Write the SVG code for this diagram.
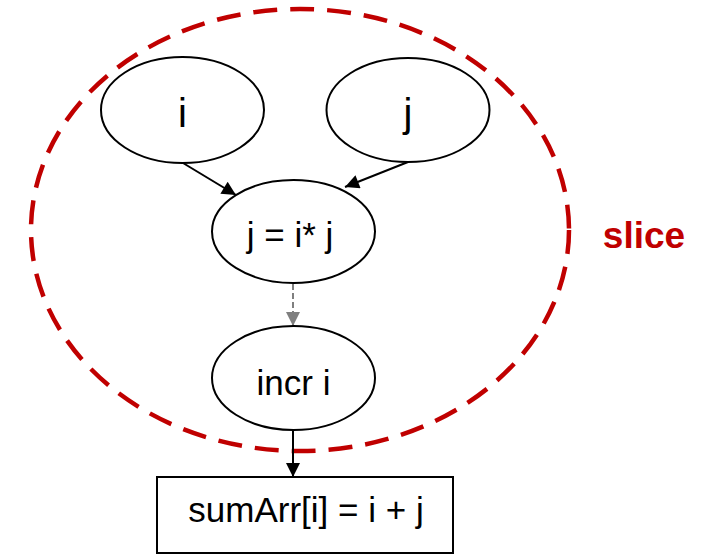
<svg xmlns="http://www.w3.org/2000/svg" width="715" height="554" viewBox="0 0 715 554">
<style>
.node{fill:#fff;stroke:#000;stroke-width:2}
.lbl{font-family:"Liberation Sans",Arial,sans-serif;font-size:35px;fill:#000;text-anchor:middle}
.big{font-size:40px}
.edge{stroke:#000;stroke-width:2;fill:none}
.dash{stroke:#7f7f7f;stroke-width:2;stroke-dasharray:6 3;fill:none}
.slice{fill:none;stroke:#c00000;stroke-width:4.5;stroke-dasharray:24 13}
</style>
<defs>
<marker id="ahg" viewBox="0 0 10 10" refX="10" refY="5" markerWidth="16" markerHeight="14" markerUnits="userSpaceOnUse" orient="auto">
<path d="M0,0 L10,5 L0,10 Z" fill="#7f7f7f"/>
</marker>
<marker id="ahb" viewBox="0 0 10 10" refX="10" refY="5" markerWidth="16" markerHeight="14" markerUnits="userSpaceOnUse" orient="auto">
<path d="M0,0 L10,5 L0,10 Z" fill="#000"/>
</marker>
</defs>
<g id="slice-region">
<ellipse class="slice" cx="300" cy="230" rx="269" ry="221"/>
<text x="644" y="248" style="font-family:'Liberation Sans',Arial,sans-serif;font-size:37px;font-weight:bold;fill:#c00000" text-anchor="middle">slice</text>
</g>
<g id="connectors">
<line class="edge" x1="183" y1="163" x2="236" y2="195" marker-end="url(#ahb)"/>
<line class="edge" x1="408" y1="162" x2="345" y2="187" marker-end="url(#ahb)"/>
<line class="dash" x1="293" y1="284" x2="293" y2="326" marker-end="url(#ahg)"/>
<line class="edge" x1="293" y1="430" x2="293" y2="477" marker-end="url(#ahb)"/>
</g>
<g id="node-i">
<ellipse class="node" cx="182.5" cy="110" rx="81.5" ry="53"/>
<text class="lbl big" x="182.5" y="127">i</text>
</g>
<g id="node-j">
<ellipse class="node" cx="408" cy="110" rx="81.5" ry="52"/>
<text class="lbl big" x="408" y="127">j</text>
</g>
<g id="node-assign">
<ellipse class="node" cx="293.5" cy="231.5" rx="81.5" ry="51.5"/>
<text class="lbl" x="290" y="247">j = i* j</text>
</g>
<g id="node-incr">
<ellipse class="node" cx="293.5" cy="378" rx="81.5" ry="52"/>
<text class="lbl" x="293.5" y="395">incr i</text>
</g>
<g id="node-sum">
<rect class="node" x="157" y="477" width="296" height="76"/>
<text class="lbl" x="306" y="522">sumArr[i] = i + j</text>
</g>
</svg>
